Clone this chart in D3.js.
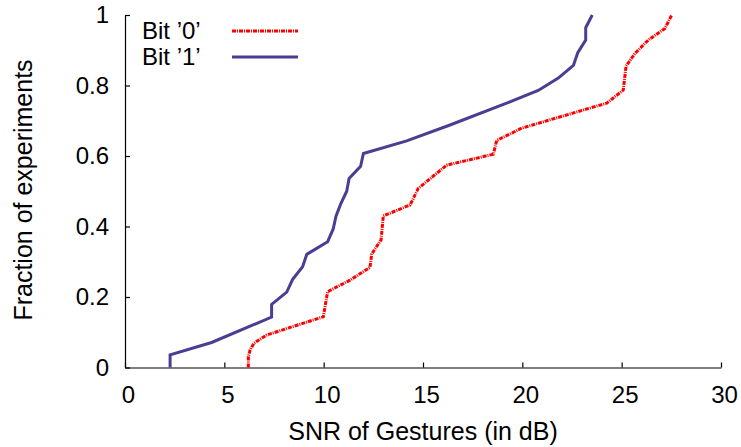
<!DOCTYPE html>
<html lang="en">
<head>
  <meta charset="utf-8">
  <title>SNR of Gestures CDF</title>
  <script src="https://d3js.org/d3.v7.min.js"></script>
  <style>
    body { margin: 0; background: #fff; }
    text { font-family: "Liberation Sans", Arial, sans-serif; fill: #000; }
  </style>
</head>
<body>
<div id="my_dataviz"></div>
<script>
// values
const bit0X = [6.21, 6.21, 6.3, 6.49, 7.13, 9.98, 10.2, 11.33, 12.33, 12.42, 12.89, 13.0, 14.35, 14.76, 16.19, 18.54, 18.71, 19.97, 24.25, 25.08, 25.22, 25.67, 26.34, 27.18, 27.52];
const bit0Y = [0, 0.031, 0.05, 0.069, 0.092, 0.144, 0.215, 0.248, 0.284, 0.322, 0.362, 0.43, 0.461, 0.508, 0.574, 0.605, 0.644, 0.679, 0.75, 0.787, 0.855, 0.891, 0.929, 0.962, 1.0];

const bit1X = [2.27, 2.27, 4.36, 7.38, 7.38, 8.14, 8.44, 8.94, 9.15, 10.2, 10.48, 10.62, 10.86, 11.16, 11.28, 11.86, 12.0, 14.18, 16.36, 19.21, 20.8, 21.81, 22.57, 22.79, 23.19, 23.19, 23.52];
const bit1Y = [0, 0.036, 0.071, 0.143, 0.179, 0.214, 0.25, 0.286, 0.321, 0.357, 0.393, 0.429, 0.464, 0.5, 0.536, 0.571, 0.607, 0.643, 0.688, 0.75, 0.786, 0.821, 0.857, 0.893, 0.929, 0.964, 1.0];

const xTicks = [0, 5, 10, 15, 20, 25, 30];
const yTicks = [0, 0.2, 0.4, 0.6, 0.8, 1];
const seriesNames = ["Bit \u20190\u2019", "Bit \u20191\u2019"];

const W = 741, H = 447;
const svg = d3.select("#my_dataviz")
  .append("svg")
    .attr("width", W)
    .attr("height", H);

const x = d3.scaleLinear().domain([0, 30]).range([125, 721]);
const y = d3.scaleLinear().domain([0, 1]).range([367.5, 15]);

// axes, ticks pointing inward
const xAxis = svg.append("g")
  .attr("transform", `translate(0,${y(0)})`)
  .call(d3.axisBottom(x).tickValues(xTicks).tickFormat(d3.format("d"))
    .tickSizeInner(-5).tickSizeOuter(0).tickPadding(18));
xAxis.selectAll("text").attr("font-size", 24).attr("dx", 3);

const yAxis = svg.append("g")
  .attr("transform", `translate(${x(0)},0)`)
  .call(d3.axisLeft(y).tickValues(yTicks).tickFormat(d => d)
    .tickSizeInner(-5).tickSizeOuter(0).tickPadding(16));
yAxis.selectAll("text").attr("font-size", 24);

svg.selectAll(".domain, .tick line").attr("stroke", "#000").attr("stroke-width", 1.2);
svg.selectAll(".tick text").attr("font-family", "Liberation Sans, Arial, sans-serif").attr("fill", "#000");

// axis titles
svg.append("text")
  .attr("x", 423).attr("y", 440)
  .attr("text-anchor", "middle")
  .attr("font-size", 25)
  .text("SNR of Gestures (in dB)");

svg.append("text")
  .attr("transform", "translate(32,190) rotate(-90)")
  .attr("text-anchor", "middle")
  .attr("font-size", 25)
  .text("Fraction of experiments");

// lines
const line = d3.line()
  .x(d => x(d[0]))
  .y(d => y(d[1]));

const series = [
  {name: seriesNames[0], pts: d3.zip(bit0X, bit0Y), color: "#ff0000", dash: "4,1,1,1"},
  {name: seriesNames[1], pts: d3.zip(bit1X, bit1Y), color: "#493f92", dash: null}
];

svg.selectAll(".series")
  .data(series)
  .join("path")
    .attr("class", "series")
    .attr("d", d => line(d.pts))
    .attr("fill", "none")
    .attr("stroke", d => d.color)
    .attr("stroke-width", 3)
    .attr("stroke-dasharray", d => d.dash);

// legend
const leg = svg.selectAll(".leg")
  .data(series)
  .join("g")
    .attr("class", "leg")
    .attr("transform", (d, i) => `translate(0,${31 + i * 26})`);

leg.append("text")
  .attr("x", 142).attr("y", 8)
  .attr("font-size", 24)
  .text(d => d.name);

leg.append("line")
  .attr("x1", 232).attr("x2", 298)
  .attr("y1", 0).attr("y2", 0)
  .attr("stroke", d => d.color)
  .attr("stroke-width", 3)
  .attr("stroke-dasharray", d => d.dash);
</script>
</body>
</html>
